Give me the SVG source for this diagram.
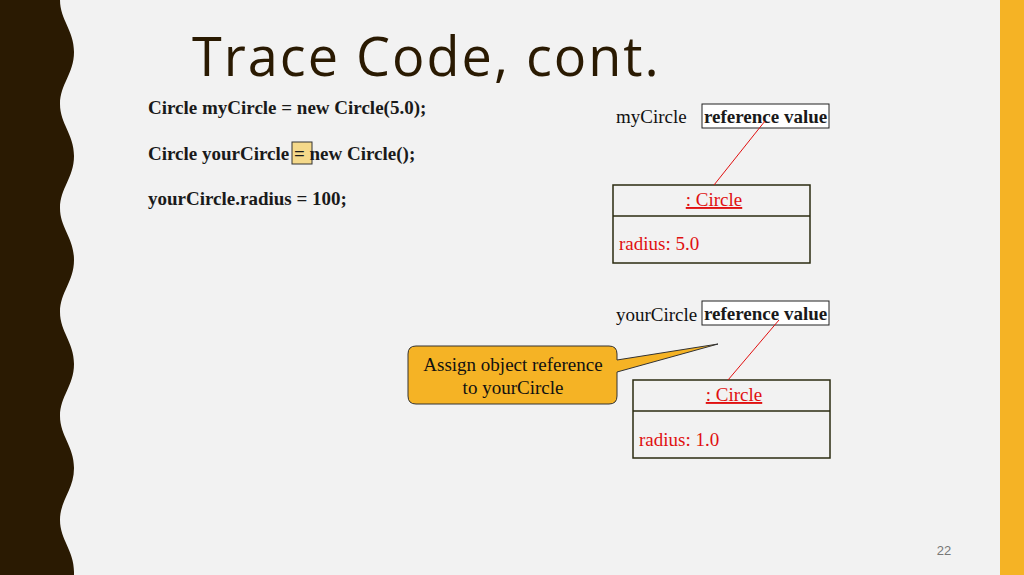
<svg xmlns="http://www.w3.org/2000/svg" width="1024" height="575" viewBox="0 0 1024 575">
<style>
.code{font-family:"Liberation Serif",serif;font-weight:bold;font-size:19px;fill:#1a1a1a}
.lbl{font-family:"Liberation Serif",serif;font-size:19px;fill:#111}
.red{font-family:"Liberation Serif",serif;font-size:19px;fill:#e01010}
.box{fill:none;stroke:#2b2b10;stroke-width:1.5}
.ref{fill:#fff;stroke:#222;stroke-width:1}
</style>
<rect width="1024" height="575" fill="#f2f2f2"/>
<rect x="1000" y="0" width="24" height="575" fill="#f5b325"/>
<path d="M0,0 L60,0 C60,20 74,30 74,52 C74,74 60,84 60,104 C60,124 74,134 74,156 C74,178 60,188 60,208 C60,228 74,238 74,260 C74,282 60,292 60,312 C60,332 74,342 74,364 C74,386 60,396 60,416 C60,436 74,446 74,468 C74,490 60,500 60,520 C60,540 74,550 74,572 L74,575 L0,575 Z" fill="#2a1a02"/>
<text x="192" y="76" font-family="Open Sans,sans-serif" font-size="54" fill="#2a1a02" letter-spacing="2">Trace Code, cont.</text>
<g id="code">
<rect x="292" y="142" width="20" height="22" fill="#f5d98a" stroke="#333" stroke-width="1"/>
<text class="code" x="148" y="114">Circle myCircle = new Circle(5.0);</text>
<text class="code" x="148" y="160">Circle yourCircle = new Circle();</text>
<text class="code" x="148" y="205">yourCircle.radius = 100;</text>
</g>
<g id="myref">
<text class="lbl" x="616" y="123">myCircle</text>
<rect class="ref" x="702" y="104" width="127" height="24"/>
<text class="code" x="704" y="123" font-size="20">reference value</text>
</g>
<g id="yourref">
<text class="lbl" x="616" y="321">yourCircle</text>
<rect class="ref" x="702" y="301" width="127" height="24"/>
<text class="code" x="704" y="320" font-size="20">reference value</text>
</g>
<g id="circle1">
<rect class="box" x="613" y="185" width="197" height="78"/>
<line x1="613" y1="216" x2="810" y2="216" stroke="#2b2b10" stroke-width="1.5"/>
<text class="red" x="714" y="206" text-anchor="middle" font-size="25" text-decoration="underline">: Circle</text>
<text class="red" x="619" y="250">radius: 5.0</text>
</g>
<g id="circle2">
<rect class="box" x="633" y="380" width="197" height="78"/>
<line x1="633" y1="411" x2="830" y2="411" stroke="#2b2b10" stroke-width="1.5"/>
<text class="red" x="734" y="401" text-anchor="middle" font-size="25" text-decoration="underline">: Circle</text>
<text class="red" x="639" y="446">radius: 1.0</text>
</g>
<g id="callout">
<path d="M416,346 L609,346 Q617,346 617,354 L617,360 L718,344 L617,372 L617,396 Q617,404 609,404 L416,404 Q408,404 408,396 L408,354 Q408,346 416,346 Z" fill="#f5b325" stroke="#333" stroke-width="1"/>
<text class="lbl" x="513" y="371" text-anchor="middle">Assign object reference</text>
<text class="lbl" x="513" y="394" text-anchor="middle">to yourCircle</text>
</g>
<g id="connectors" stroke="#e01010" stroke-width="1">
<line x1="765" y1="121" x2="714" y2="185"/>
<line x1="779" y1="320" x2="728" y2="380"/>
</g>
<text x="944" y="555" font-family="Liberation Sans,sans-serif" font-size="13" fill="#777" text-anchor="middle">22</text>
</svg>
